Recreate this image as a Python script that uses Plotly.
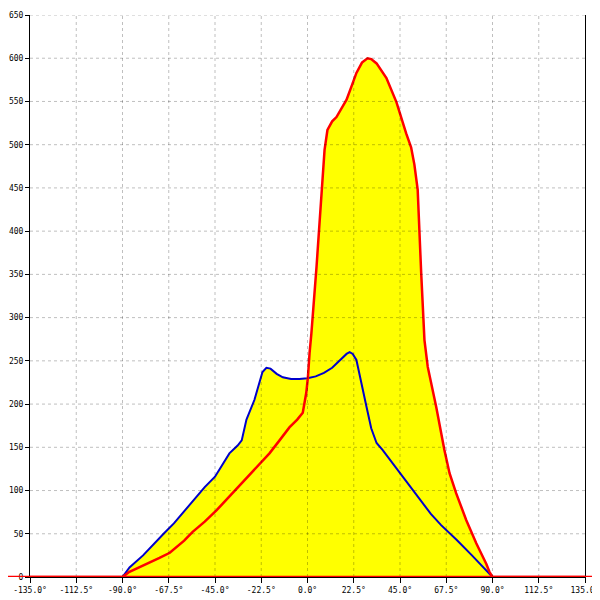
import plotly.graph_objects as go

# Tick definitions
x_ticks = [-135, -112.5, -90, -67.5, -45, -22.5, 0, 22.5, 45, 67.5, 90, 112.5, 135]
x_tick_labels = [f"{v:.1f}°" for v in x_ticks]
y_ticks = list(range(0, 651, 50))

# Blue series (angle in degrees, value)
blue_x = [-90, -86.6, -80, -75, -70, -65, -60, -55, -50, -45, -40, -38, -34, -32, -29.7,
          -25.8, -21.9, -20, -18, -15, -12, -8, -4, 0, 4, 8, 12, 16, 19, 20.5, 22, 23.8,
          26, 28.7, 31, 33.6, 36.5, 40, 44.8, 50, 56, 60, 65, 69.1, 72.5, 80, 87, 90]
blue_y = [0, 11, 25, 38, 50, 62, 76, 90, 104, 116, 135, 143, 152, 158, 182,
          205, 237, 242, 241, 235, 231, 229, 229, 230, 232, 236, 242, 251, 258, 260, 258, 251,
          225, 197, 172, 155, 147, 136, 120, 104, 86, 73, 60, 51, 43, 25, 8, 0]

# Red series
red_x = [-180, -90, -86.6, -80, -72, -67, -60, -56, -50, -44.3, -38, -33, -25, -18.5, -13.6,
         -8.8, -5, -2.3, -0.6, 0.2, 1, 1.9, 4.4, 6.8, 8.3, 9.7, 12, 14.1, 16, 19, 21.5,
         23.8, 26.5, 29.2, 31, 33.6, 38.4, 43.3, 48, 50.4, 52, 53.6, 55.3, 56.9, 58.5,
         62.6, 66.6, 69.1, 72.3, 77.2, 82.1, 85, 87, 88.5, 90, 180]
red_y = [0, 0, 6, 13, 22, 28, 42, 52, 64, 77, 93, 106, 126, 143, 158,
         173, 182, 190, 213, 231, 259, 282, 359, 436, 494, 517, 527, 532, 540, 552, 568,
         583, 595, 600, 599, 594, 577, 549, 513, 497, 477, 448, 352, 274, 243,
         197, 147, 120, 97, 66, 39, 25, 15, 6, 0, 0]

YELLOW = "#ffff00"
RED = "#ff0000"
BLUE = "#0000cc"

fig = go.Figure()
# fills first
fig.add_trace(go.Scatter(x=blue_x, y=blue_y, mode="lines", fill="tozeroy",
                         fillcolor=YELLOW, line=dict(width=0), hoverinfo="skip",
                         showlegend=False))
fig.add_trace(go.Scatter(x=red_x, y=red_y, mode="lines", fill="tozeroy",
                         fillcolor=YELLOW, line=dict(width=0), hoverinfo="skip",
                         showlegend=False))
# lines
fig.add_trace(go.Scatter(x=blue_x, y=blue_y, mode="lines",
                         line=dict(color=BLUE, width=2), showlegend=False))
fig.add_trace(go.Scatter(x=red_x, y=red_y, mode="lines",
                         line=dict(color=RED, width=2.5), showlegend=False))

shapes = []
grid_style = dict(color="rgba(0,0,0,0.25)", width=1, dash="3px,3px")
for v in x_ticks[1:-1]:
    shapes.append(dict(type="line", xref="x", yref="paper", x0=v, x1=v, y0=0, y1=1,
                       line=grid_style, layer="above"))
for v in y_ticks[1:]:
    shapes.append(dict(type="line", xref="paper", yref="y", x0=0, x1=1, y0=v, y1=v,
                       line=grid_style, layer="above"))
# red baseline overflowing the plot area
shapes.append(dict(type="line", xref="paper", yref="y", x0=-0.05, x1=1.03, y0=0, y1=0,
                   line=dict(color=RED, width=2.5), layer="above"))

fig.update_layout(
    width=592, height=592,
    margin=dict(l=22, r=15, t=7, b=23, autoexpand=False),
    paper_bgcolor="white", plot_bgcolor="white",
    font=dict(family="DejaVu Sans Mono", size=8, color="black"),
    shapes=shapes,
    xaxis=dict(range=[-135, 135], tickmode="array", tickvals=x_ticks, ticktext=x_tick_labels,
               showgrid=False, zeroline=False, showline=True, linecolor="black", linewidth=1,
               ticks="outside", ticklen=5, tickcolor="black", fixedrange=True,
               automargin=False, ticklabeloverflow="allow"),
    yaxis=dict(range=[0, 650], tickmode="array", tickvals=y_ticks,
               showgrid=False, zeroline=False, showline=True, linecolor="black", linewidth=1,
               mirror=True, ticks="outside", ticklen=4, tickcolor="black", fixedrange=True,
               automargin=False, ticklabeloverflow="allow"),
)

fig.write_html("out.html")
